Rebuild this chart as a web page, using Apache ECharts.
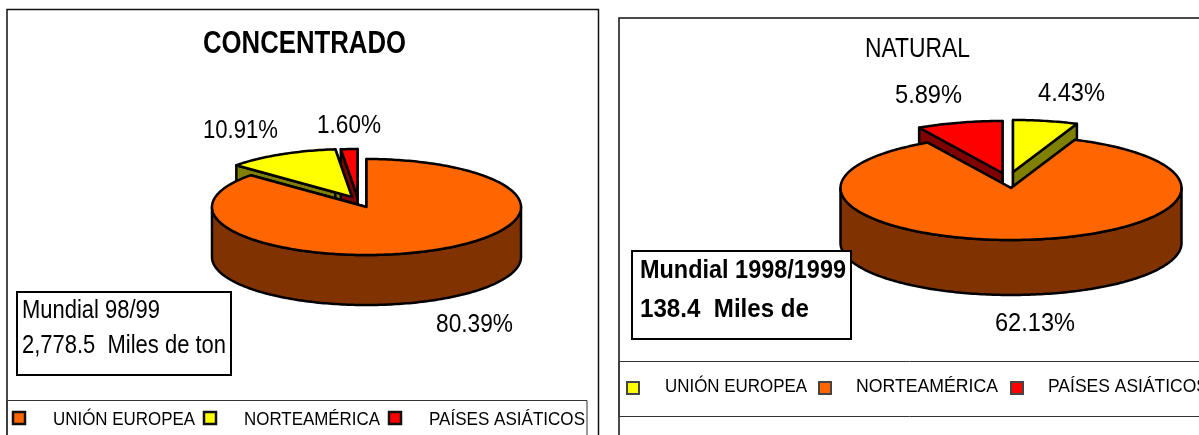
<!DOCTYPE html>
<html><head><meta charset="utf-8">
<style>html,body{margin:0;padding:0;background:#fff;overflow:hidden}#c{width:1199px;height:435px}</style>
<script src="https://cdn.jsdelivr.net/npm/echarts@6/dist/echarts.min.js"></script>
</head><body><div id="c"></div>
<script>
// ---- data ----
const categories = ['UNIÓN EUROPEA', 'NORTEAMÉRICA', 'PAÍSES ASIÁTICOS'];
const concentradoValues = [80.39, 10.91, 1.60];
const naturalValues = [4.43, 62.13, 5.89];
const concentradoTitle = 'CONCENTRADO';
const naturalTitle = 'NATURAL';
const concentradoNote = ['Mundial 98/99', '2,778.5  Miles de ton'];
const naturalNote = ['Mundial 1998/1999', '138.4  Miles de'];

// ---- styles / layout ----
const FONT = '"Liberation Sans", Arial, sans-serif';
const ORANGE = '#FF6600', YELLOW = '#FFFF00', RED = '#FF0000';
const WALL = { [ORANGE]: '#803300', [YELLOW]: '#808000', [RED]: '#800000' };
const TEXT_DY = 1.5;
const pies = [
  { name: 'Concentrado', values: concentradoValues, colors: [ORANGE, YELLOW, RED],
    cx: 366.5, cy: 207, rx: 154.5, ry: 48, depth: 50,
    offsets: [[0, 0], [-14.5, -10], [-9, -10]],
    labels: [[436, 323, 77], [203, 129, 75], [317, 124, 64]] },
  { name: 'Natural', values: naturalValues, colors: [YELLOW, ORANGE, RED],
    cx: 1011, cy: 188, rx: 170.5, ry: 52, depth: 55,
    offsets: [[2, -16], [0, 0], [-8.5, -15]],
    labels: [[1038, 92, 67], [995, 322, 80], [895, 94, 67]] }
];
const measure = document.createElement('canvas').getContext('2d');
function fitText(text, left, y, font, width, extra) {
  measure.font = font;
  const s = width / measure.measureText(text).width;
  return Object.assign({ type: 'text', x: left, y: y + TEXT_DY, scaleX: s, silent: true,
    style: { x: 0, y: 0, text: text, font: font, fill: '#000', align: 'left', verticalAlign: 'middle' } }, extra || {});
}
function pt(p, a, ox, oy, dy) {
  const r = a * Math.PI / 180;
  return [p.cx + ox + p.rx * Math.sin(r), p.cy + oy - p.ry * Math.cos(r) + (dy || 0)];
}
function arc(p, a0, a1, ox, oy, dy) {
  const out = [], n = Math.max(2, Math.ceil(Math.abs(a1 - a0)));
  for (let i = 0; i <= n; i++) out.push(pt(p, a0 + (a1 - a0) * i / n, ox, oy, dy));
  return out;
}
const edge = { stroke: '#000', lineWidth: 2.5, lineJoin: 'round' };
function sliceRender(p) {
  const total = p.values.reduce((a, b) => a + b, 0);
  return function (params) {
    const i = params.dataIndex;
    let before = 0;
    for (let k = 0; k < i; k++) before += p.values[k];
    const a0 = before / total * 360, a1 = (before + p.values[i]) / total * 360;
    const [ox, oy] = p.offsets[i];
    const exploded = ox !== 0 || oy !== 0;
    const color = p.colors[i], wall = WALL[color];
    const apex = [p.cx + ox, p.cy + oy];
    const children = [];
    const wallZ = exploded ? 1 : 3, topZ = exploded ? 2 : 4;
    // radial walls
    [a0, a1].forEach(function (a) {
      const c = pt(p, a, ox, oy);
      children.push({ type: 'polygon', z2: wallZ, silent: true,
        shape: { points: [apex, c, [c[0], c[1] + p.depth], [apex[0], apex[1] + p.depth]] },
        style: Object.assign({ fill: wall }, edge) });
    });
    // outer wall on the front half
    const f0 = Math.max(a0, 90), f1 = Math.min(a1, 270);
    if (f1 > f0) {
      children.push({ type: 'polygon', z2: wallZ, silent: true,
        shape: { points: arc(p, f0, f1, ox, oy, 0).concat(arc(p, f1, f0, ox, oy, p.depth)) },
        style: Object.assign({ fill: wall }, edge) });
    }
    // top surface
    children.push({ type: 'polygon', z2: topZ, silent: true,
      shape: { points: [apex].concat(arc(p, a0, a1, ox, oy)) },
      style: Object.assign({ fill: color }, edge) });
    // percentage label
    const l = p.labels[i];
    children.push(fitText(p.values[i].toFixed(2) + '%', l[0], l[1], '26px ' + FONT, l[2], { z2: 5 }));
    return { type: 'group', children: children };
  };
}
function legendItems(colors, marks, names) {
  const out = [];
  names.forEach(function (n, i) {
    const m = marks[i];
    out.push({ type: 'rect', z: 50, silent: true, shape: { x: m[0], y: m[1], width: 12, height: 12 },
      style: { fill: colors[i], stroke: m[4], lineWidth: m[6] } });
    out.push(fitText(n, m[2], m[1] + 6 + m[5], '19px ' + FONT, m[3], { z: 50 }));
  });
  return out;
}
function noteBox(x, y, w, h, lines, font, tx, ys, ws) {
  const out = [{ type: 'rect', z: 50, silent: true, shape: { x: x, y: y, width: w, height: h },
    style: { fill: '#fff', stroke: '#000', lineWidth: 2 } }];
  lines.forEach(function (t, i) { out.push(fitText(t, tx, ys[i], font, ws[i], { z: 51 })); });
  return out;
}
const graphics = [].concat(
  [ // panels
    { type: 'rect', z: 1, silent: true, shape: { x: 7, y: 9.5, width: 591.5, height: 440 }, style: { fill: 'none', stroke: '#111', lineWidth: 1.5 } },
    { type: 'rect', z: 1, silent: true, shape: { x: 7, y: 400.5, width: 580, height: 50 }, style: { fill: 'none', stroke: '#333', lineWidth: 1 } },
    { type: 'rect', z: 1, silent: true, shape: { x: 619, y: 18, width: 600, height: 440 }, style: { fill: 'none', stroke: '#111', lineWidth: 1.5 } },
    { type: 'rect', z: 1, silent: true, shape: { x: 619, y: 361.5, width: 600, height: 55 }, style: { fill: 'none', stroke: '#333', lineWidth: 1 } }
  ],
  [fitText(concentradoTitle, 203, 43, 'bold 31px ' + FONT, 203, { z: 50 }),
   fitText(naturalTitle, 865, 48, '28px ' + FONT, 105, { z: 50 })],
  noteBox(17, 292, 214, 83, concentradoNote, '26px ' + FONT, 22, [309, 344], [138, 204]),
  noteBox(632, 251, 219, 88, naturalNote, 'bold 26px ' + FONT, 640, [269, 308], [206, 169]),
  legendItems(pies[0].colors, [[13, 412, 53, 142, '#111', 0, 2.5], [204, 412, 244, 136, '#111', 0, 2.5], [389, 412, 429, 156, '#111', 0, 2.5]], categories),
  legendItems(pies[1].colors, [[627, 382, 665, 142, '#444', -3, 2], [819, 382, 856, 142, '#444', -3, 2], [1011, 382, 1048, 160, '#444', -3, 2]], categories)
);
const chart = echarts.init(document.getElementById('c'), null, { renderer: 'canvas', width: 1199, height: 435 });
chart.setOption({
  backgroundColor: '#fff',
  animation: false,
  tooltip: { show: false },
  graphic: { elements: graphics },
  series: pies.map(function (p) {
    return {
      type: 'custom', name: p.name, coordinateSystem: 'none', silent: true,
      renderItem: sliceRender(p),
      data: p.values.map(function (v, i) { return { name: categories[i], value: v }; })
    };
  })
});
</script></body></html>
